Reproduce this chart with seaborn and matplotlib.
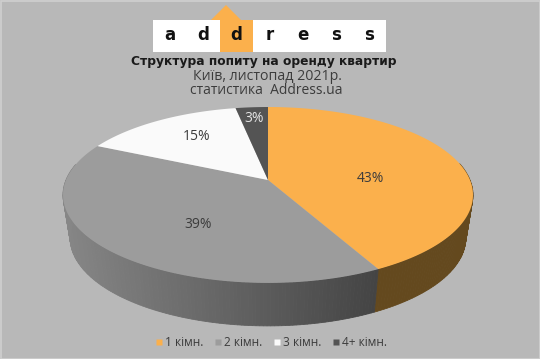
import numpy as np
import matplotlib
matplotlib.use("Agg")
import matplotlib.pyplot as plt
from matplotlib.lines import Line2D
from matplotlib.patches import Rectangle
import seaborn as sns

categories = ["1 кімн.", "2 кімн.", "3 кімн.", "4+ кімн."]
shares = [43, 39, 15, 3]
top_colors = ["#FBB04C", "#9C9C9C", "#FAFAFA", "#545454"]
logo_letters = ["a", "d", "d", "r", "e", "s", "s"]
title_lines = ["Структура попиту на оренду квартир", "Київ, листопад 2021р.", "статистика  Address.ua"]

BG = "#B8B8B8"
TXT = "#3C3C3C"
sns.set_theme(style="white", rc={"figure.facecolor": BG, "axes.facecolor": BG})
plt.rcParams["font.family"] = ["Open Sans", "DejaVu Sans"]

fig = plt.figure(figsize=(5.4, 3.59), dpi=100)
ax = fig.add_axes([0, 0, 1, 1])
ax.set_xlim(0, 540)
ax.set_ylim(359, 0)
ax.axis("off")
ax.add_patch(Rectangle((0.5, 0.5), 539, 358, fill=False, ec="#CFCFCF", lw=1.2, zorder=1))

CX, CY, A, B, K = 268.0, 180.0, 202.0, 85.4, 0.17
DEPTH, SHRINK = 43.0, 0.965


def top_xy(theta):
    x, y = np.sin(theta), np.cos(theta)
    w = 1 + K * y
    return CX + A * x / w, CY - B * y / w


def bottom_xy(theta):
    px, py = top_xy(theta)
    return CX + (px - CX) * SHRINK, py + DEPTH


def shade(c1, c2, t):
    c1, c2 = np.array(matplotlib.colors.to_rgb(c1)), np.array(matplotlib.colors.to_rgb(c2))
    return tuple(c1 + (c2 - c1) * t)


edges = 2 * np.pi * np.concatenate([[0], np.cumsum(shares)]) / sum(shares)
edges[1] -= np.radians(2.4)  # the reference's perspective pulls this boundary slightly

# side wall (front half only)
for i in range(2):
    th = np.linspace(edges[i], edges[i + 1], 160)
    th = th[np.cos(th) < 0.2]
    for t0, t1 in zip(th[:-1], th[1:]):
        x0, y0 = top_xy(t0)
        x1, y1 = top_xy(t1)
        x2, y2 = bottom_xy(t1)
        x3, y3 = bottom_xy(t0)
        if i == 0:
            col = "#64491E"
        else:
            f = np.clip(((x0 + x1) / 2 - 63) / (378 - 63), 0, 1)
            col = shade("#868686", "#444444", f)
        ax.fill([x0, x1, x2, x3], [y0, y1, y2, y3], facecolor=col, edgecolor=col, lw=0.6, zorder=2)

# top face
for i, c in enumerate(top_colors):
    th = np.linspace(edges[i], edges[i + 1], 200)
    px, py = top_xy(th)
    ax.fill(np.r_[CX, px], np.r_[CY, py], color=c, lw=0, zorder=3)

# labels
label_pos = [(370, 178), (198, 225), (197, 136), (254, 118)]
label_cols = [TXT, TXT, TXT, "#E6E6E6"]
for v, (lx, ly), c in zip(shares, label_pos, label_cols):
    ax.text(lx, ly, f"{v}%", ha="center", va="center", fontsize=10, color=c, zorder=5)

# logo
ax.fill([153, 386, 386, 153], [20, 20, 51.5, 51.5], color="white", lw=0, zorder=2)
ax.fill([220, 253, 253, 220], [20, 20, 51.5, 51.5], color="#FBB04C", lw=0, zorder=3)
ax.fill([211, 226, 241], [20, 5, 20], color="#FBB04C", lw=0, zorder=3)
for k, ch in enumerate(logo_letters):
    ax.text(169.5 + k * 33.3, 35, ch, ha="center", va="center", fontsize=12,
            fontweight="bold", color="#111111", family=["DejaVu Sans"], zorder=4)

# titles
ax.text(264, 61, title_lines[0], ha="center", va="center", fontsize=8.8, fontweight="bold",
        color="#1A1A1A", family=["DejaVu Sans"])
ax.text(267, 76, title_lines[1], ha="center", va="center", fontsize=10.2, color=TXT)
ax.text(266, 90, title_lines[2], ha="center", va="center", fontsize=10, color=TXT)

# legend
handles = [Line2D([], [], marker="s", ls="", ms=4.5, mfc=c, mec="none") for c in top_colors]
ax.legend(handles, categories, ncol=4, loc="center", bbox_to_anchor=(270 / 540, 1 - 343 / 359),
          frameon=False, fontsize=8.6, labelcolor=TXT, handletextpad=0.0, columnspacing=0.75,
          handlelength=1.0)

fig.savefig("out.png", dpi=100, facecolor=BG)
